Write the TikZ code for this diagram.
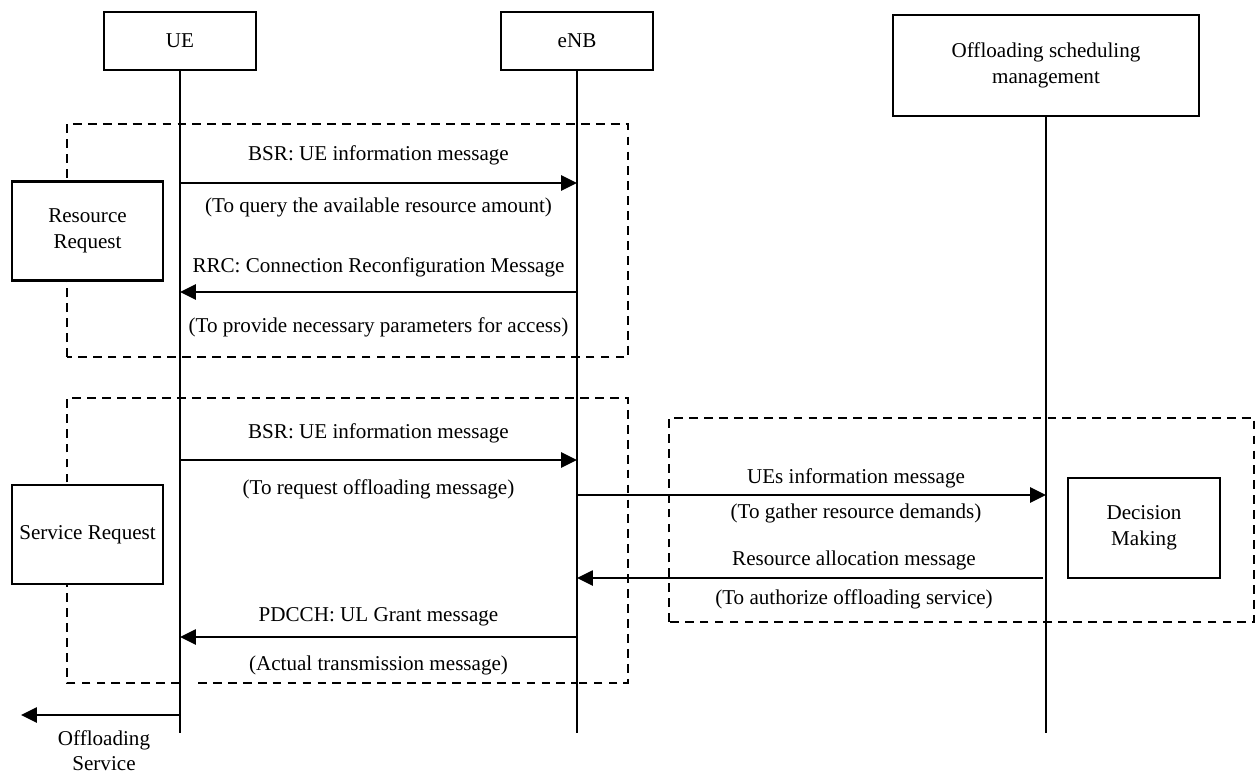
\documentclass[tikz,border=0pt]{standalone}
\usepackage{fontspec}
\setmainfont{Liberation Serif}
\usetikzlibrary{arrows.meta}

\begin{document}
\begin{tikzpicture}[
    font=\fontsize{12}{14.5}\selectfont,
    >={Triangle[length=9pt,width=8.5pt]},
    every node/.style={align=center},
    entity/.style={draw, line width=1.3pt, minimum width=3.04cm, minimum height=1.16cm},
    stagebox/.style={draw, fill=white, line width=1.3pt, minimum width=3.02cm, minimum height=1.98cm},
    lifeline/.style={line width=1.3pt},
    msg/.style={->, line width=1.3pt},
    stageframe/.style={line width=1.3pt, dash pattern=on 5pt off 3.5pt}
]
    \useasboundingbox (0,0) rectangle (25.14,15.46);

    % Dashed stage frames
    \draw[stageframe] (1.34,8.32) rectangle (12.56,12.98);
    \draw[stageframe] (3.6,1.8) -- (1.34,1.8) -- (1.34,7.5) -- (12.56,7.5) -- (12.56,1.8) -- (11.54,1.8);
    \draw[line width=0.6pt, dash pattern=on 5pt off 3.5pt] (3.96,1.8) -- (11.54,1.8);
    \draw[stageframe] (13.38,3.02) rectangle (25.08,7.1);

    % Entities
    \node[entity] (ue) at (3.6,14.64) {UE};
    \node[entity] (enb) at (11.54,14.64) {eNB};
    \node[entity, minimum width=6.12cm, minimum height=2.02cm] (osm) at (20.92,14.15) {Offloading scheduling\\management};

    % Lifelines
    \coordinate (ueEnd) at (3.6,0.8);
    \coordinate (enbEnd) at (11.54,0.8);
    \coordinate (osmEnd) at (20.92,0.8);
    \draw[lifeline] (ue.south) -- (ueEnd);
    \draw[lifeline] (enb.south) -- (enbEnd);
    \draw[lifeline] (osm.south) -- (osmEnd);

    % Stage boxes
    \node[stagebox] (resreq) at (1.75,10.84) {Resource\\Request};
    \node[stagebox] (servreq) at (1.75,4.77) {Service Request};
    \node[stagebox, minimum width=3.04cm, minimum height=2cm] (decision) at (22.88,4.9) {Decision\\Making};

    % Resource request messages
    \coordinate (m1) at (0,11.8);
    \draw[msg] (ue.south |- m1) -- (enb.south |- m1);
    \node (m1top) at (7.57,12.36) {BSR: UE information message};
    \node (m1bot) at (7.57,11.32) {(To query the available resource amount)};

    \coordinate (m2) at (0,9.62);
    \draw[msg] (enb.south |- m2) -- (ue.south |- m2);
    \node (m2top) at (7.57,10.12) {RRC: Connection Reconfiguration Message};
    \node (m2bot) at (7.57,8.92) {(To provide necessary parameters for access)};

    % Service request messages
    \coordinate (m3) at (0,6.26);
    \draw[msg] (ue.south |- m3) -- (enb.south |- m3);
    \node (m3top) at (7.57,6.8) {BSR: UE information message};
    \node (m3bot) at (7.57,5.68) {(To request offloading message)};

    \coordinate (m4) at (0,5.56);
    \draw[msg] (enb.south |- m4) -- (osm.south |- m4);
    \node (m4top) at (17.12,5.9) {UEs information message};
    \node (m4bot) at (17.12,5.2) {(To gather resource demands)};

    \coordinate (m5) at (20.86,3.9);
    \draw[msg] (m5) -- (enb.south |- m5);
    \node (m5top) at (17.08,4.26) {Resource allocation message};
    \node (m5bot) at (17.08,3.48) {(To authorize offloading service)};

    \coordinate (m6) at (0,2.72);
    \draw[msg] (enb.south |- m6) -- (ue.south |- m6);
    \node (m6top) at (7.57,3.12) {PDCCH: UL Grant message};
    \node (m6bot) at (7.57,2.16) {(Actual transmission message)};

    % Offloading service
    \coordinate (svc) at (0.42,1.16);
    \draw[msg] (ue.south |- svc) -- (svc);
    \node (svclabel) at (2.08,0.45) {Offloading\\Service};
\end{tikzpicture}
\end{document}
